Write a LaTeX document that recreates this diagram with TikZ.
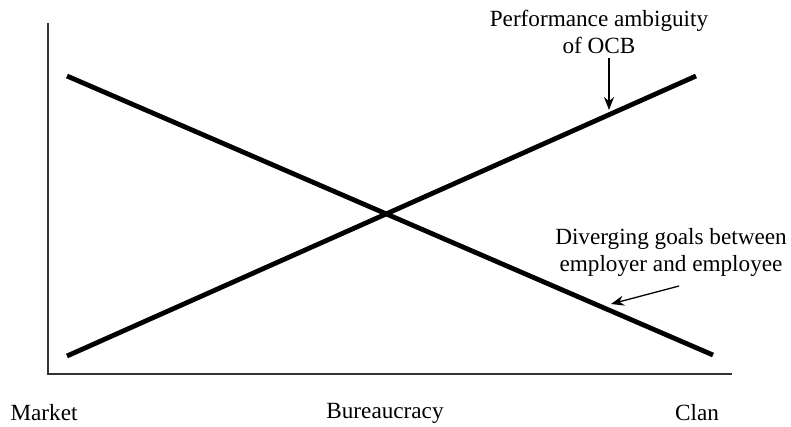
\documentclass[tikz,border=0pt]{standalone}
\usepackage{fontspec}
\setmainfont{Liberation Serif}
\usetikzlibrary{arrows.meta}
\begin{document}
\begin{tikzpicture}[x=1pt,y=-1pt,
  axis/.style={line width=1.6pt, draw=black!80},
  curve/.style={line width=4.8pt},
  pointer/.style={line width=1.3pt,-{Stealth[length=13pt,width=10pt]}},
  lbl/.style={font=\fontsize{23.2}{27}\selectfont, align=center, inner sep=0pt}]
\useasboundingbox (0,0) rectangle (791,426);
% axes
\coordinate (top) at (48,23);
\coordinate (orig) at (48,374);
\coordinate (xend) at (732,374);
\draw[axis] (top) -- (orig) -- (xend);
% lines
\coordinate (d1) at (67,76);
\coordinate (d2) at (713,355);
\coordinate (a1) at (67,356);
\coordinate (a2) at (696,76);
\draw[curve] (d1) -- (d2);
\draw[curve] (a1) -- (a2);
% labels
\node[lbl] (perf) at (599,32) {Performance ambiguity\\of OCB};
\node[lbl] (div) at (671,252) {Diverging goals between\\employer and employee};
\coordinate (p1) at (609,58);
\coordinate (p2) at (609,110);
\draw[pointer] (p1) -- (p2);
\coordinate (q1) at (679,286);
\coordinate (q2) at (611,304);
\draw[pointer] (q1) -- (q2);
% axis labels
\node[lbl] (market) at (44,413) {Market};
\node[lbl] (bur) at (385,413) {Bureaucracy};
\node[lbl] (clan) at (697,413) {Clan};
\end{tikzpicture}
\end{document}
